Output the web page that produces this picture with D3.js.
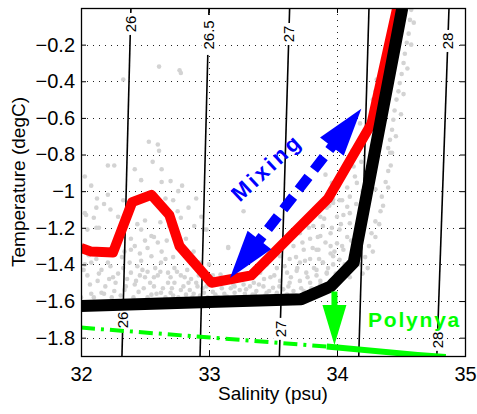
<!DOCTYPE html>
<html>
<head>
<meta charset="utf-8">
<script src="https://cdn.jsdelivr.net/npm/d3@7"></script>
<style>
  body { margin: 0; background: #fff; }
  text { font-family: "Liberation Sans", Arial, Helvetica, sans-serif; }
</style>
</head>
<body>
<div id="chart"></div>
<script>
// axis ticks
const xTicks = [32, 33, 34, 35];
const yTicks = [-1.8, -1.6, -1.4, -1.2, -1, -0.8, -0.6, -0.4, -0.2];

// isopycnals (sigma-theta): salinity where each crosses T = 0 and T = -1.9
const isoLevels = ["26", "26.5", "27", "27.5", "28"];
const isoSalTop = [32.39, 33.0, 33.63, 34.25, 34.875];
const isoSalBottom = [32.32, 32.93, 33.55, 34.17, 34.78];
const isoLabelTop = [-0.087, -0.147, -0.142, null, -0.18];
const isoLabelBottom = [-1.703, null, -1.752, null, -1.812];

// profiles
const redSal = [32.0, 32.08, 32.25, 32.40, 32.55, 32.69, 32.77, 33.02, 33.33, 33.93, 34.27, 34.47];
const redTemp = [-1.31, -1.33, -1.335, -1.06, -1.02, -1.13, -1.30, -1.50, -1.46, -1.04, -0.63, 0.0];
const blackSal = [32.0, 33.0, 33.72, 33.95, 34.13, 34.51];
const blackTemp = [-1.627, -1.605, -1.59, -1.52, -1.39, 0.0];
const greenDashSal = [32.0, 33.95];
const greenDashTemp = [-1.745, -1.85];
const greenSal = [33.92, 34.63, 34.85];
const greenTemp = [-1.848, -1.894, -1.905];

// annotations
const mixingTips = [[33.164, -1.474], [34.19, -0.55]];
const polynyaArrow = [[33.98, -1.548], [33.98, -1.84]];

// CTD observations (grey cloud)
const obs = [
  [32.61,-0.32],[32.77,-0.34],[32.78,-0.355],[32.33,-0.39],
  [32.53,-0.73],[32.60,-0.745],[32.61,-0.78],[32.56,-0.84],[32.26,-0.86],[32.21,-0.86],
  [32.42,-0.88],[32.63,-0.88],[32.03,-0.92],[32.47,-0.94],[32.63,-0.95],[32.70,-0.945],
  [32.79,-0.97],[32.76,-1.0],[32.08,-0.97],[32.125,-1.04],[32.21,-1.02],[32.33,-1.05],
  [32.18,-1.07],[32.12,-1.09],[32.04,-1.13],[32.10,-1.145],[32.23,-1.10],[32.29,-1.14],
  [32.05,-1.21],[32.14,-1.20],[32.78,-1.145],[32.885,-1.19],[32.94,-1.14],[32.96,-1.21],
  [32.755,-1.11],[32.69,-1.19],[32.47,-1.21],[32.55,-1.245],[32.39,-1.26],[32.39,-1.32],
  [32.46,-1.34],[32.52,-1.31],[32.60,-1.28],[32.38,-1.39],[32.47,-1.38],[32.55,-1.355],
  [32.625,-1.39],[32.08,-1.39],[32.16,-1.43],[32.23,-1.41],[32.05,-1.46],[32.13,-1.49],
  [32.22,-1.48],[32.29,-1.45],[32.39,-1.445],[32.46,-1.46],[32.52,-1.44],[32.60,-1.46],
  [32.68,-1.445],[32.73,-1.42],[32.78,-1.46],[32.83,-1.43],[32.86,-1.48],[32.68,-1.50],
  [32.57,-1.52],[32.49,-1.53],[32.42,-1.51],[32.34,-1.54],[32.26,-1.545],[32.16,-1.555],
  [32.08,-1.56],[32.91,-1.52],[32.78,-1.54],[32.70,-1.555],[32.625,-1.555],[32.96,-1.555],
  [32.55,-1.565],[32.03,-1.12],[32.12,-1.2],[32.0,-1.58],[32.03,-1.40],[32.12,-1.37],
  [32.19,-1.52],[32.27,-1.50],[32.33,-1.42],[32.36,-1.48],[32.44,-1.41],[32.5,-1.47],
  [32.58,-1.42],[32.66,-1.37],[32.73,-1.5],[32.84,-1.5],[32.92,-1.46],[32.88,-1.56],
  [32.82,-1.565],[32.72,-1.57],
  [32.02,-1.43],[32.07,-1.51],[32.1,-1.58],[32.14,-1.45],[32.18,-1.56],[32.21,-1.39],
  [32.24,-1.58],[32.25,-1.47],[32.31,-1.57],[32.32,-1.36],[32.35,-1.52],[32.41,-1.58],
  [32.43,-1.49],[32.45,-1.55],[32.48,-1.43],[32.52,-1.58],[32.54,-1.5],[32.57,-1.47],
  [32.59,-1.56],[32.62,-1.44],[32.64,-1.53],[32.66,-1.58],[32.7,-1.47],[32.71,-1.53],
  [32.75,-1.44],[32.76,-1.58],[32.8,-1.52],[32.81,-1.47],[32.85,-1.54],[32.87,-1.58],
  [32.9,-1.5],[32.93,-1.57],[32.95,-1.53],[32.99,-1.58],[32.06,-1.35],[32.17,-1.33],
  [32.28,-1.29],[32.34,-1.33],[32.42,-1.3],[32.5,-1.27],[32.57,-1.25],[32.63,-1.33],
  [32.67,-1.27],[32.72,-1.36],[32.3,-1.23],[32.44,-1.18],[32.36,-1.17],[32.5,-1.16],
  [32.62,-1.17],[32.66,-1.04],[32.72,-1.05],[32.84,-1.09],[32.9,-1.04],[32.82,-1.26],
  [32.88,-1.33],[32.93,-1.39],[33.0,-1.40],
  [33.27,-1.11],[32.98,-1.21],[33.15,-1.31],[33.91,-0.91],[33.96,-0.955],[33.97,-1.045],
  [33.92,-1.09],[33.87,-1.14],[33.815,-1.19],[33.89,-1.19],[33.71,-1.23],[33.79,-1.26],
  [33.87,-1.245],[33.66,-1.30],[33.74,-1.32],[33.84,-1.32],[33.95,-1.30],[33.555,-1.355],
  [33.63,-1.37],[33.71,-1.39],[33.79,-1.37],[33.89,-1.39],[33.97,-1.355],[33.45,-1.40],
  [33.53,-1.42],[33.61,-1.445],[33.685,-1.435],[33.76,-1.445],[33.84,-1.46],[33.92,-1.445],
  [33.40,-1.445],[33.48,-1.47],[33.555,-1.49],[33.63,-1.50],[33.71,-1.49],[33.79,-1.50],
  [33.87,-1.51],[33.95,-1.49],[33.35,-1.50],[33.425,-1.52],[33.50,-1.527],[33.58,-1.536],
  [33.66,-1.545],[33.74,-1.545],[33.815,-1.536],[33.89,-1.527],[33.27,-1.51],[33.19,-1.51],
  [33.09,-1.455],[33.03,-1.46],[32.98,-1.52],[33.29,-1.536],[33.37,-1.545],[33.45,-1.555],
  [33.53,-1.555],[33.61,-1.564],[33.15,-1.305],[33.05,-1.565],[33.12,-1.56],[33.2,-1.555],
  [33.28,-1.56],[33.36,-1.565],[33.44,-1.57],[33.52,-1.57],[33.6,-1.57],[33.68,-1.57],
  [33.25,-1.48],[33.2,-1.52],[33.1,-1.53],
  [33.03,-1.55],[33.07,-1.58],[33.1,-1.5],[33.14,-1.575],[33.17,-1.53],[33.22,-1.58],
  [33.24,-1.54],[33.3,-1.58],[33.32,-1.52],[33.34,-1.565],[33.39,-1.51],[33.41,-1.58],
  [33.43,-1.48],[33.47,-1.545],[33.49,-1.58],[33.51,-1.46],[33.55,-1.52],[33.57,-1.575],
  [33.59,-1.41],[33.62,-1.52],[33.64,-1.47],[33.65,-1.58],[33.68,-1.36],[33.69,-1.42],
  [33.72,-1.53],[33.73,-1.28],[33.75,-1.38],[33.77,-1.47],[33.78,-1.2],[33.8,-1.53],
  [33.81,-1.31],[33.82,-1.42],[33.85,-1.25],[33.86,-1.37],[33.87,-1.49],[33.9,-1.15],
  [33.91,-1.28],[33.93,-1.42],[33.94,-1.08],[33.96,-1.2],[33.98,-1.33],[33.99,-1.45],
  [34.415,-0.79],[34.40,-0.89],[34.38,-0.95],[34.35,-1.03],[34.34,-1.11],[34.30,-1.165],
  [34.27,-1.23],[34.25,-1.30],[34.22,-1.36],[34.18,-1.40],[34.13,-0.865],[34.155,-0.955],
  [34.10,-1.03],[34.08,-1.085],[34.05,-1.13],[34.10,-1.175],[34.02,-1.21],[34.08,-1.25],
  [34.0,-1.285],[34.05,-1.32],[33.95,-1.34],[34.02,-1.375],[33.89,-1.39],[33.97,-1.40],
  [33.84,-1.43],[33.92,-1.45],[33.855,-1.32],[33.95,-1.23],[34.0,-1.14],[33.97,-1.065],
  [34.04,-1.05],[34.01,-0.975],[33.95,-0.99],[34.05,-0.91],[34.21,-1.13],[34.25,-1.05],
  [34.30,-0.99],[34.26,-0.885],[34.31,-0.83],
  [34.0,-0.95],[34.02,-1.05],[34.03,-1.18],[34.04,-1.3],[34.06,-1.4],[34.07,-0.85],
  [34.08,-0.98],[34.1,-1.12],[34.11,-1.27],[34.12,-0.78],[34.14,-0.92],[34.15,-1.07],
  [34.16,-1.2],[34.18,-0.72],[34.19,-0.84],[34.2,-1.0],[34.23,-0.67],[34.24,-0.9],
  [34.28,-0.57],[34.3,-0.7],[34.33,-0.45],
  [34.3,-1.25],[34.33,-1.18],[34.36,-1.08],[34.4,-0.98],[34.42,-0.86],[34.28,-1.33],
  [34.24,-1.42],[34.46,-0.7],[34.5,-0.58],[34.52,-0.47],[34.55,-0.33],[34.58,-0.2],
  [34.6,-0.08],[34.2,-1.45],[34.1,-1.47],
  [34.58,-0.01],[34.57,-0.065],[34.56,-0.14],[34.545,-0.19],[34.53,-0.25],[34.52,-0.30],
  [34.505,-0.36],[34.49,-0.41],[34.48,-0.455],[34.465,-0.50],[34.45,-0.56],[34.44,-0.61],
  [34.43,-0.665],[34.414,-0.72],[34.40,-0.765],[34.43,-0.79],[34.30,-0.455],[34.28,-0.50],
  [34.31,-0.39],[34.18,-0.63]
];

const width = 477;
const height = 414;
const x = d3.scaleLinear().domain([32, 35]).range([81, 465]);
const y = d3.scaleLinear().domain([-1.9, 0]).range([356, 8]);
const [x0, x1] = x.range();
const [y0, y1] = y.range();

const svg = d3.select("#chart").append("svg")
  .attr("width", width)
  .attr("height", height);

svg.append("defs").append("clipPath").attr("id", "plot-clip")
  .append("rect")
  .attr("x", x0).attr("y", y1)
  .attr("width", x1 - x0).attr("height", y0 - y1);

// dotted grid
const grid = svg.append("g").attr("stroke", "#222").attr("stroke-width", 1)
  .attr("stroke-dasharray", "1,5");
grid.selectAll(".gx").data(xTicks.slice(1, -1)).enter().append("line")
  .attr("x1", d => x(d) + 0.5).attr("x2", d => x(d) + 0.5)
  .attr("y1", y1).attr("y2", y0);
grid.selectAll(".gy").data(yTicks).enter().append("line")
  .attr("y1", d => Math.round(y(d)) + 0.5).attr("y2", d => Math.round(y(d)) + 0.5)
  .attr("x1", x0).attr("x2", x1);

const plot = svg.append("g").attr("clip-path", "url(#plot-clip)");

// grey observations
plot.selectAll(".obs").data(obs).enter().append("circle")
  .attr("cx", d => x(d[0]))
  .attr("cy", d => y(d[1]))
  .attr("r", 2.3)
  .attr("fill", "#d3d3d3");

// isopycnals
const isoData = isoLevels.map((lev, i) => ({
  lev: lev,
  top: isoSalTop[i],
  bottom: isoSalBottom[i],
  labels: [isoLabelTop[i], isoLabelBottom[i]].filter(t => t !== null)
}));
const salAt = (d, t) => d.top + (d.bottom - d.top) * (t / -1.9);

plot.selectAll(".iso").data(isoData).enter().append("line")
  .attr("x1", d => x(d.top)).attr("y1", y(0))
  .attr("x2", d => x(d.bottom)).attr("y2", y(-1.9))
  .attr("stroke", "#000").attr("stroke-width", 1.6);

const isoLab = [];
isoData.forEach(d => d.labels.forEach(t => isoLab.push({ lev: d.lev, s: salAt(d, t), t: t })));
const labG = plot.selectAll(".isolab").data(isoLab).enter().append("g")
  .attr("transform", d => `translate(${x(d.s)},${y(d.t)}) rotate(-90)`);
labG.append("rect")
  .attr("x", d => -d.lev.length * 4.5 - 2).attr("y", -7)
  .attr("width", d => d.lev.length * 9 + 4).attr("height", 14)
  .attr("fill", "#fff");
labG.append("text")
  .attr("text-anchor", "middle").attr("dy", "0.36em")
  .attr("font-size", 15)
  .text(d => d.lev);

const line = d3.line().x(d => x(d[0])).y(d => y(d[1]));

plot.append("path").datum(d3.zip(redSal, redTemp))
  .attr("d", line).attr("fill", "none")
  .attr("stroke", "#ff0000").attr("stroke-width", 10).attr("stroke-linejoin", "round");

plot.append("path").datum(d3.zip(blackSal, blackTemp))
  .attr("d", line).attr("fill", "none")
  .attr("stroke", "#000").attr("stroke-width", 12).attr("stroke-linejoin", "round");

plot.append("path").datum(d3.zip(greenDashSal, greenDashTemp))
  .attr("d", line).attr("fill", "none")
  .attr("stroke", "#00ff00").attr("stroke-width", 4)
  .attr("stroke-dasharray", "14,6,3,6");

plot.append("path").datum(d3.zip(greenSal, greenTemp))
  .attr("d", line).attr("fill", "none")
  .attr("stroke", "#00ff00").attr("stroke-width", 6);

// polynya arrow (vertical, green)
const pa0 = [x(polynyaArrow[0][0]), y(polynyaArrow[0][1])];
const pa1 = [x(polynyaArrow[1][0]), y(polynyaArrow[1][1])];
plot.append("line")
  .attr("x1", pa0[0]).attr("y1", pa0[1]).attr("x2", pa1[0]).attr("y2", pa1[1] - 38)
  .attr("stroke", "#00ff00").attr("stroke-width", 6);
plot.append("path")
  .attr("d", `M${pa1[0]},${pa1[1]} L${pa1[0] - 12},${pa1[1] - 40} L${pa1[0] + 12},${pa1[1] - 40} Z`)
  .attr("fill", "#00ff00");

// mixing arrow (dashed, double headed, blue)
const m0 = [x(mixingTips[0][0]), y(mixingTips[0][1])];
const m1 = [x(mixingTips[1][0]), y(mixingTips[1][1])];
const len = Math.hypot(m1[0] - m0[0], m1[1] - m0[1]);
const ux = (m1[0] - m0[0]) / len, uy = (m1[1] - m0[1]) / len;
const headLen = 48, headHalf = 15;
function head(tip, dir) {
  const bx = tip[0] + dir * ux * headLen, by = tip[1] + dir * uy * headLen;
  return `M${tip[0]},${tip[1]} L${bx - uy * headHalf},${by + ux * headHalf} L${bx + uy * headHalf},${by - ux * headHalf} Z`;
}
const blue = plot.append("g").attr("fill", "#0000ff");
blue.append("line")
  .attr("x1", m0[0] + ux * (headLen - 1)).attr("y1", m0[1] + uy * (headLen - 1))
  .attr("x2", m1[0] - ux * (headLen - 1)).attr("y2", m1[1] - uy * (headLen - 1))
  .attr("stroke", "#0000ff").attr("stroke-width", 10)
  .attr("stroke-dasharray", "16,9").attr("stroke-dashoffset", 10);
blue.append("path").attr("d", head(m0, 1));
blue.append("path").attr("d", head(m1, -1));

// labels
svg.append("text")
  .attr("transform", `translate(${x(33.45)},${y(-0.87)}) rotate(-43)`)
  .attr("text-anchor", "middle").attr("dy", "0.35em")
  .attr("font-size", 22).attr("font-weight", "bold")
  .attr("letter-spacing", 3)
  .attr("fill", "#0000ff")
  .text("Mixing");

svg.append("text")
  .attr("x", x(34.242)).attr("y", y(-1.741))
  .attr("font-size", 21).attr("font-weight", "bold")
  .attr("letter-spacing", 1.8)
  .attr("fill", "#00ff00")
  .text("Polynya");

// frame
svg.append("rect")
  .attr("x", x0 + 0.5).attr("y", y1 + 0.5)
  .attr("width", x1 - x0).attr("height", y0 - y1)
  .attr("fill", "none").attr("stroke", "#000").attr("stroke-width", 1.3);

// axes
const fmt = t => (t < 0 ? "\u2212" : "") + Math.abs(t);
const xAxis = svg.append("g").attr("transform", `translate(0,${y0})`)
  .call(d3.axisBottom(x).tickValues(xTicks).tickFormat(d3.format("d"))
    .tickSizeInner(-5).tickSizeOuter(0).tickPadding(11));
const yAxis = svg.append("g").attr("transform", `translate(${x0},0)`)
  .call(d3.axisLeft(y).tickValues(yTicks).tickFormat(fmt)
    .tickSizeInner(-5).tickSizeOuter(0).tickPadding(6));
svg.append("g").attr("transform", `translate(0,${y1})`)
  .call(d3.axisTop(x).tickValues(xTicks).tickFormat("").tickSizeInner(-5).tickSizeOuter(0));
svg.append("g").attr("transform", `translate(${x1},0)`)
  .call(d3.axisRight(y).tickValues(yTicks).tickFormat("").tickSizeInner(-5).tickSizeOuter(0));
svg.selectAll(".domain").remove();
svg.selectAll(".tick line").attr("stroke", "#000");
[xAxis, yAxis].forEach(a => a.selectAll("text")
  .attr("font-size", 20).attr("fill", "#000")
  .style("font-family", '"Liberation Sans", Arial, Helvetica, sans-serif'));

svg.append("text")
  .attr("x", (x0 + x1) / 2).attr("y", 400)
  .attr("text-anchor", "middle").attr("font-size", 19)
  .text("Salinity (psu)");

svg.append("text")
  .attr("transform", `translate(25,${(y0 + y1) / 2}) rotate(-90)`)
  .attr("text-anchor", "middle").attr("font-size", 19)
  .text("Temperature (degC)");
</script>
</body>
</html>
